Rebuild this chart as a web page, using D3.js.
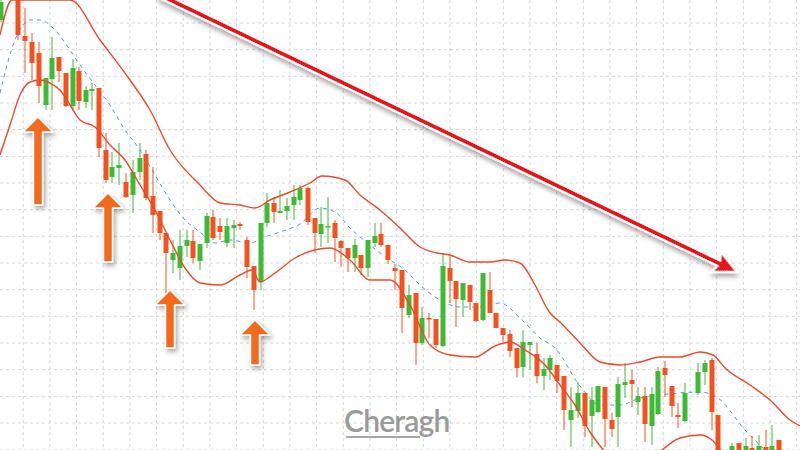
<!DOCTYPE html>
<html><head><meta charset="utf-8">
<script src="https://cdn.jsdelivr.net/npm/d3@7/dist/d3.min.js"></script>
<style>body{margin:0;background:#fff}svg{display:block}</style>
</head><body>
<script>
// Candles: [time position, open, high, low, close] (chart level units, larger = lower on chart)
const candles = [
[1,20,0,22,2],[18,0,0,40,35],[25,36,8,73,41],[32,42,33,80,63],[39,53,42,103,86],[46,105,78,110,78],
[52,79,37,110,58],[59,57,57,82,71],[66,73,73,107,106],[73,106,59,110,68],[79,71,67,110,101],
[86,102,86,108,90],[92,91,83,110,89],[99,88,88,157,148],[106,150,133,183,180],[112,177,152,183,167],
[119,168,143,185,165],[126,182,173,198,197],[133,195,160,213,172],[140,172,143,180,158],
[146,154,150,200,198],[153,196,167,233,215],[160,211,211,240,233],[166,233,233,295,253],
[173,260,240,273,253],[180,268,230,280,246],[187,246,230,257,240],[193,241,230,263,258],
[200,261,244,270,244],[207,243,213,248,216],[213,217,210,240,238],[220,226,218,240,232],
[227,243,218,247,226],[234,228,220,248,225],[240,224,222,230,226],[247,240,237,278,267],
[254,266,266,310,290],[261,282,223,290,223],[267,223,193,227,203],[274,203,197,223,212],
[280,213,190,213,211],[287,211,198,220,206],[294,205,185,220,197],[300,200,185,205,188],
[308,188,187,225,222],[315,218,218,253,233],[321,234,207,247,224],[328,227,197,243,226],
[335,223,220,262,238],[341,241,240,267,248],[348,248,248,272,258],[355,258,239,272,245],
[361,255,255,275,268],[368,268,240,277,240],[375,243,223,247,236],[381,234,223,247,245],
[388,245,245,264,260],[395,268,264,290,271],[402,270,270,333,308],[409,315,285,318,295],
[416,293,293,365,343],[422,343,307,345,318],[429,318,313,338,319],[436,319,319,348,345],
[443,346,253,347,266],[450,268,255,303,281],[456,281,281,327,299],[463,300,283,317,283],
[470,285,285,310,302],[476,303,303,322,321],[483,320,273,321,273],[490,290,272,313,313],
[496,313,313,328,328],[503,328,328,342,335],[510,334,330,357,351],[517,348,348,377,368],
[523,367,330,377,342],[530,345,342,370,342],[537,354,343,383,376],[544,376,358,390,369],
[550,370,355,380,358],[557,365,365,393,381],[564,376,376,430,410],[571,420,387,447,410],
[578,411,382,418,393],[585,393,393,437,426],[592,416,387,447,400],[598,412,386,413,386],
[605,387,387,447,419],[612,420,413,437,429],[618,417,377,447,384],[625,385,363,398,382],
[632,380,370,407,384],[638,402,387,415,396],[645,396,387,442,424],[652,426,387,445,394],
[658,414,367,415,371],[665,368,361,397,375],[672,386,386,417,406],[678,415,403,428,417],
[685,421,383,422,393],[698,393,363,395,372],[705,372,360,385,363],[712,360,358,430,412],
[718,415,415,455,450],[732,452,443,455,446],[739,443,443,455,452],[746,452,438,455,446],
[752,448,436,455,452],[759,452,435,455,446],[766,447,430,455,453],[772,452,425,455,446],
[779,440,440,455,452]
];
const upperBand = [[0,35],[12,0],[70,0],[100,40],[130,80],[150,110],[170,150],[200,185],[220,203],[240,205],
[255,208],[270,200],[290,192],[310,183],[322,176],[345,180],[360,195],[380,210],[400,228],[420,247],
[437,253],[450,255],[470,262],[490,262],[505,260],[520,263],[535,285],[550,313],[560,322],[580,343],
[600,362],[620,365],[640,362],[660,357],[680,357],[700,352],[713,355],[725,368],[750,385],[770,400],
[790,420],[800,426]];
const middleBand = [[0,93],[15,40],[30,20],[40,20],[55,30],[70,50],[80,65],[95,85],[110,105],[125,130],
[140,150],[155,175],[170,200],[185,220],[200,232],[215,243],[230,240],[250,243],[265,237],[280,232],
[300,224],[320,208],[335,212],[350,228],[370,245],[390,260],[405,270],[420,285],[440,300],[460,307],
[480,307],[500,303],[520,318],[540,338],[555,348],[580,386],[600,405],[620,405],[640,398],[660,395],
[700,392],[718,398],[745,430],[765,450]];
const lowerBand = [[0,155],[10,125],[20,95],[30,82],[40,80],[50,83],[60,90],[70,105],[80,120],[95,127],
[110,145],[125,160],[140,185],[155,210],[170,240],[185,268],[200,283],[220,285],[240,275],[252,270],
[260,282],[275,273],[295,258],[330,248],[350,260],[370,280],[390,280],[410,305],[430,345],[450,355],
[475,357],[495,346],[510,342],[525,350],[545,365],[560,385],[575,405],[590,432],[605,452]];
const lowerBandTail = [[660,452],[680,438],[700,435],[712,440],[722,452]];
const upArrows = [[38,117,205],[108,193,262],[170,290,348],[255,320,365]];
const trendArrow = [[160,-5],[737,272]];
const watermark = "Cheragh";

const W=800,H=450;
const x=d3.scaleLinear().domain([0,800]).range([0,W]);
const y=d3.scaleLinear().domain([0,450]).range([0,H]);
const svg=d3.select("body").append("svg").attr("width",W).attr("height",H);
const defs=svg.append("defs");
const f=defs.append("filter").attr("id","sh").attr("x","-50%").attr("y","-50%").attr("width","200%").attr("height","200%");
f.append("feDropShadow").attr("dx",2).attr("dy",3).attr("stdDeviation",2.5).attr("flood-color","#000").attr("flood-opacity",0.35);

// grid
const gx=d3.range(-3.4,800,26.67), gy=d3.range(-3.7,450,26.67);
svg.append("g").selectAll("line").data(gx).join("line").attr("x1",d=>x(d)).attr("x2",d=>x(d)).attr("y1",0).attr("y2",H)
 .attr("stroke","#d6d6d6").attr("stroke-dasharray","3,3");
svg.append("g").selectAll("line").data(gy).join("line").attr("y1",d=>y(d)).attr("y2",d=>y(d)).attr("x1",0).attr("x2",W)
 .attr("stroke","#d6d6d6").attr("stroke-dasharray","3,3");

// watermark
svg.append("text").attr("x",x(344)).attr("y",y(432)).text(watermark).attr("font-family","Lato, 'Open Sans', sans-serif")
 .attr("font-size",30).attr("font-weight",600).attr("fill","#9a9a9a").attr("letter-spacing",-0.8);
svg.append("line").attr("x1",x(346)).attr("x2",x(420)).attr("y1",y(437)).attr("y2",y(437)).attr("stroke","#a8a8a8").attr("stroke-width",2);

const line=d3.line().x(d=>x(d[0])).y(d=>y(d[1])).curve(d3.curveMonotoneX);
const band=(d,c,w,da)=>svg.append("path").attr("d",line(d)).attr("fill","none").attr("stroke",c).attr("stroke-width",w).attr("stroke-dasharray",da||null);
band(middleBand,"#4a9be0",1,"4,4");

// candles
const cg=svg.append("g");
candles.forEach(([t,o,h,l,c])=>{
  const col=c>o?"#f4511e":"#3dbb35";
  cg.append("line").attr("x1",x(t)).attr("x2",x(t)).attr("y1",y(h)).attr("y2",y(l)).attr("stroke",col).attr("stroke-width",1);
  const top=Math.min(o,c),bot=Math.max(o,c);
  cg.append("rect").attr("x",x(t)-2.5).attr("width",5).attr("y",y(top)).attr("height",Math.max(1.5,y(bot)-y(top))).attr("fill",col);
});
band(upperBand,"#ea4a2c",1.4);
band(lowerBand,"#ea4a2c",1.4);
band(lowerBandTail,"#ea4a2c",1.4);

// up arrows
upArrows.forEach(([cx,top,bot])=>{
  const p=[[cx,top],[cx+15,top+15],[cx+4.5,top+15],[cx+4.5,bot],[cx-4.5,bot],[cx-4.5,top+15],[cx-15,top+15]];
  svg.append("path").attr("d","M"+p.map(d=>x(d[0])+","+y(d[1])).join("L")+"Z")
   .attr("fill","#f26b1d").attr("stroke","#fff").attr("stroke-width",1.5).attr("stroke-linejoin","round").attr("filter","url(#sh)");
});

// trend arrow
const [a,b]=trendArrow;
const ang=Math.atan2(y(b[1])-y(a[1]),x(b[0])-x(a[0]));
const L=Math.hypot(y(b[1])-y(a[1]),x(b[0])-x(a[0]));
const ta=svg.append("g").attr("transform",`translate(${x(a[0])},${y(a[1])}) rotate(${ang*180/Math.PI})`).attr("filter","url(#sh)");
ta.append("path").attr("d",`M0,-3L${L-20},-3L${L-23},-11L${L},0L${L-23},11L${L-20},3L0,3Z`)
 .attr("fill","#e3191c").attr("stroke","#fff").attr("stroke-width",2).attr("stroke-linejoin","miter");
</script>
</body></html>
